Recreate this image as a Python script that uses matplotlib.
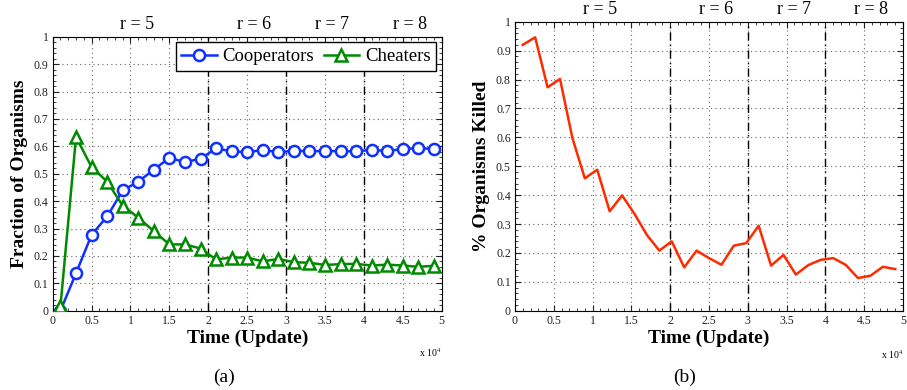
import numpy as np
from matplotlib import pyplot as plt

plt.rcParams["font.family"] = ["Liberation Serif", "DejaVu Serif"]
plt.rcParams["mathtext.fontset"] = "stix"

# panel (a): population fractions, update times in units of 1e4
coop_time = [0.1, 0.3, 0.5, 0.7, 0.9, 1.1, 1.3, 1.5, 1.7, 1.9, 2.1, 2.3, 2.5,
             2.7, 2.9, 3.1, 3.3, 3.5, 3.7, 3.9, 4.1, 4.3, 4.5, 4.7, 4.9]
cooperators = [0.0, 0.137, 0.277, 0.344, 0.439, 0.471, 0.515, 0.558, 0.542, 0.555,
               0.592, 0.582, 0.578, 0.587, 0.578, 0.584, 0.582, 0.583, 0.582, 0.582,
               0.587, 0.583, 0.590, 0.594, 0.590]
cheaters = [0.017, 0.634, 0.524, 0.471, 0.383, 0.340, 0.290, 0.242, 0.242, 0.227,
            0.187, 0.194, 0.194, 0.180, 0.189, 0.177, 0.175, 0.167, 0.170, 0.171,
            0.165, 0.168, 0.165, 0.160, 0.164]

# panel (b): fraction of organisms killed
kill_time = [0.1, 0.26, 0.42, 0.58, 0.74, 0.9, 1.06, 1.22, 1.38, 1.54, 1.7,
             1.86, 2.02, 2.18, 2.34, 2.5, 2.66, 2.82, 2.98, 3.14, 3.3, 3.46,
             3.62, 3.78, 3.94, 4.1, 4.26, 4.42, 4.58, 4.74, 4.9]
killed = [0.920, 0.946, 0.773, 0.802, 0.597, 0.458, 0.488, 0.344, 0.399, 0.335,
          0.262, 0.208, 0.240, 0.150, 0.208, 0.182, 0.159, 0.225, 0.234, 0.294,
          0.156, 0.193, 0.125, 0.158, 0.176, 0.182, 0.159, 0.113, 0.121, 0.152,
          0.144]

# regime boundaries and labels
r_bounds = [2, 3, 4]
r_labels = ["r = 5", "r = 6", "r = 7", "r = 8"]
r_label_x = [0.87, 2.37, 3.37, 4.37]

x_ticks = [0, 0.5, 1, 1.5, 2, 2.5, 3, 3.5, 4, 4.5, 5]
x_ticklabels = ["0", "0.5", "1", "1.5", "2", "2.5", "3", "3.5", "4", "4.5", "5"]
y_ticks = [0, 0.1, 0.2, 0.3, 0.4, 0.5, 0.6, 0.7, 0.8, 0.9, 1]
y_ticklabels = ["0", "0.1", "0.2", "0.3", "0.4", "0.5", "0.6", "0.7", "0.8", "0.9", "1"]


def style_axes(ax, ylabel):
    # MATLAB-like look: box, dotted grid, inward ticks
    ax.set_xlim(0, 5)
    ax.set_ylim(0, 1)
    ax.set_xticks(x_ticks, labels=x_ticklabels)
    ax.set_yticks(y_ticks, labels=y_ticklabels)
    ax.set_xticks(np.arange(0, 5.001, 0.1), minor=True)
    ax.set_yticks(np.arange(0, 1.001, 0.02), minor=True)
    ax.tick_params(which="both", direction="in", top=True, right=True,
                   labelsize=8.5, colors="#222222", pad=3)
    ax.tick_params(which="major", length=4)
    ax.tick_params(which="minor", length=2)
    ax.grid(True, which="major", linestyle=(0, (1, 3)), color="#666666", linewidth=0.8)
    for s in ax.spines.values():
        s.set_linewidth(0.8)
    for b in r_bounds:
        ax.axvline(b, color="black", linestyle="-.", linewidth=1.0, dashes=(6, 3, 1, 3))
    for txt, xx in zip(r_labels, r_label_x):
        ax.text(xx, 1.012, txt, fontsize=13, ha="left", va="bottom")
    ax.set_xlabel("Time (Update)", fontsize=14, fontweight="bold", labelpad=2)
    ax.set_ylabel(ylabel, fontsize=14, fontweight="bold", labelpad=4)
    ax.text(1.0, -0.13, r"x 10$^4$", transform=ax.transAxes, fontsize=7,
            ha="right", va="top")


fig = plt.figure(figsize=(9.07, 3.90), dpi=100)
ax1 = fig.add_axes([0.0581, 0.2033, 0.4289, 0.7026])
ax2 = fig.add_axes([0.5678, 0.2033, 0.4278, 0.741])

ax1.plot(coop_time, cooperators, color="#1030ff", linewidth=1.8, marker="o",
         markersize=8, markerfacecolor="white", markeredgewidth=1.8,
         label="Cooperators", zorder=3)
ax1.plot(coop_time, cheaters, color="#008a00", linewidth=1.8, marker="^",
         markersize=8.5, markerfacecolor="white", markeredgewidth=1.8,
         label="Cheaters", zorder=3)
style_axes(ax1, "Fraction of Organisms")
leg = ax1.legend(loc="upper right", ncol=2, fontsize=13.5, frameon=True,
                 fancybox=False, edgecolor="black", framealpha=1,
                 handlelength=1.9, handletextpad=0.3, columnspacing=0.5,
                 borderpad=0.3, borderaxespad=0.3)
leg.get_frame().set_linewidth(1.0)

ax2.plot(kill_time, killed, color="#ff2a00", linewidth=1.8, zorder=3)
style_axes(ax2, "% Organisms Killed")

fig.text(224 / 907, 1 - 377 / 390, "(a)", fontsize=14, ha="center", va="center")
fig.text(685 / 907, 1 - 377 / 390, "(b)", fontsize=14, ha="center", va="center")

plt.savefig("out.png", dpi=100)
